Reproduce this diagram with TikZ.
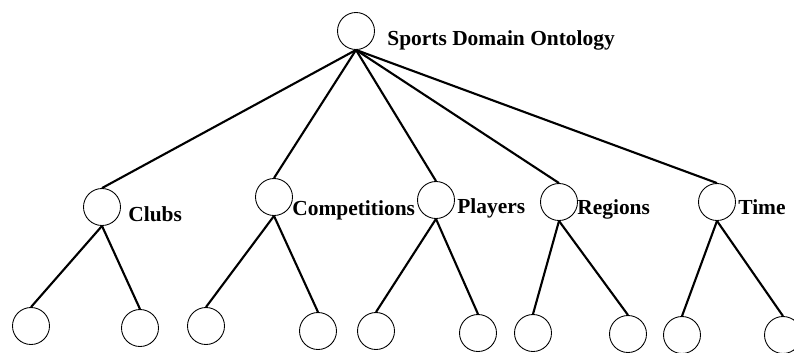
\documentclass[tikz,border=0pt]{standalone}
\usepackage{fontspec}
\setmainfont{Liberation Serif}
\usetikzlibrary{positioning}

\begin{document}
\begin{tikzpicture}[x=0.02cm, y=-0.02cm,
	concept/.style={draw=black, circle, line width=0.5pt, minimum size=0.74cm, inner sep=0pt},
	conceptname/.style={anchor=base west, inner sep=0pt, font=\fontsize{12.2}{14}\selectfont\bfseries},
	branch/.style={black, line width=1.2pt}]
	\useasboundingbox (0,0) rectangle (794,352);
	\node[concept] (root) at (356,31) {};
	\node[conceptname] (rootname) at (387,45) {Sports Domain Ontology};
	\node[concept] (clubs) at (102,207) {};
	\node[concept] (comp) at (274,197) {};
	\node[concept] (players) at (436,200) {};
	\node[concept] (regions) at (559,202) {};
	\node[concept] (time) at (717,202) {};
	\node[conceptname] (clubsname) at (128,221) {Clubs};
	\node[conceptname] (compname) at (292,215) {Competitions};
	\node[conceptname] (playersname) at (457,213) {Players};
	\node[conceptname] (regionsname) at (577,214) {Regions};
	\node[conceptname] (timename) at (738,214) {Time};
	\node[concept] (c1) at (31,326) {};
	\node[concept] (c2) at (140,328) {};
	\node[concept] (c3) at (206,326) {};
	\node[concept] (c4) at (318,331) {};
	\node[concept] (c5) at (376,331) {};
	\node[concept] (c6) at (478,333) {};
	\node[concept] (c7) at (533,333) {};
	\node[concept] (c8) at (628,334) {};
	\node[concept] (c9) at (682,335) {};
	\node[concept] (c10) at (783,335) {};
	\draw[branch] (root.south) -- (clubs.north);
	\draw[branch] (root.south) -- (comp.north);
	\draw[branch] (root.south) -- (players.north);
	\draw[branch] (root.south) -- (regions.north);
	\draw[branch] (root.south) -- (time.north);
	\draw[branch] (clubs.south) -- (c1.north);
	\draw[branch] (clubs.south) -- (c2.north);
	\draw[branch] (comp.south) -- (c3.north);
	\draw[branch] (comp.south) -- (c4.north);
	\draw[branch] (players.south) -- (c5.north);
	\draw[branch] (players.south) -- (c6.north);
	\draw[branch] (regions.south) -- (c7.north);
	\draw[branch] (regions.south) -- (c8.north);
	\draw[branch] (time.south) -- (c9.north);
	\draw[branch] (time.south) -- (c10.north);
\end{tikzpicture}
\end{document}
